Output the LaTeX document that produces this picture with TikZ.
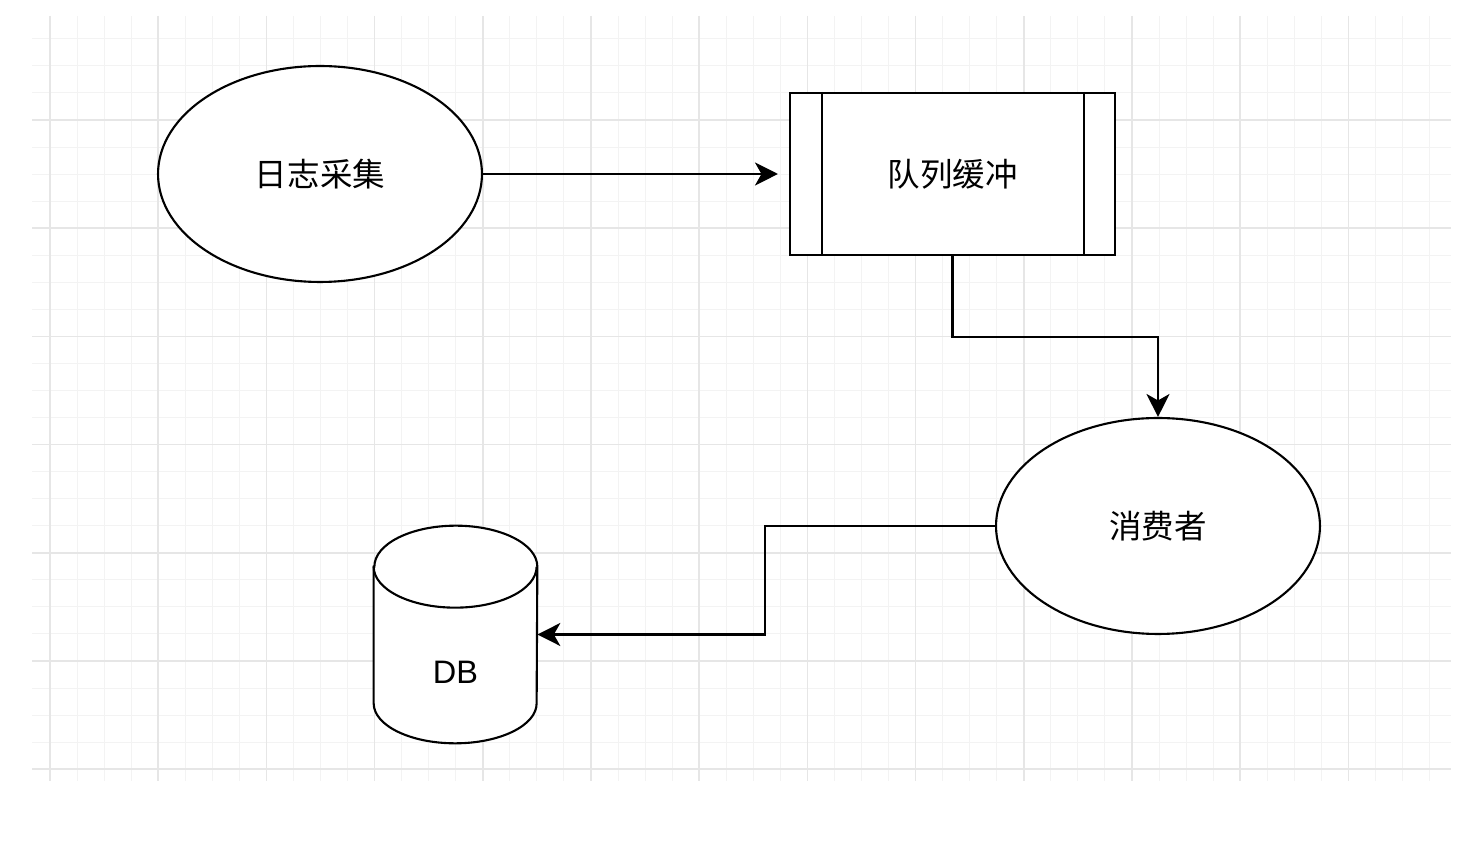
\documentclass[tikz,border=0pt]{standalone}
\usepackage{fontspec}
\setmainfont{Liberation Sans}
\newfontfamily\cjk{Noto Sans CJK SC}
\usepackage{tikz}
\usetikzlibrary{arrows.meta, positioning, shapes.geometric, calc}
\definecolor{gridminor}{RGB}{243,243,243}
\definecolor{gridmajor}{RGB}{230,230,230}
\tikzset{
    % background grid
    gminor/.style={draw=gridminor, line width=0.6pt},
    gmajor/.style={draw=gridmajor, line width=0.9pt},
    % shapes
    ovalbox/.style={ellipse, draw=black, fill=white, line width=1.2pt,
                minimum width=6.48cm, minimum height=4.32cm,
                font=\cjk\fontsize{18.5}{22}\selectfont},
    procbox/.style={rectangle, draw=black, fill=white, line width=1.2pt,
                minimum width=6.5cm, minimum height=3.24cm,
                font=\cjk\fontsize{18.5}{22}\selectfont},
    dbbox/.style={rectangle, minimum width=3.26cm, minimum height=4.34cm,
                inner sep=0pt},
    dbline/.style={draw=black, fill=white, line width=1.2pt},
    dblbl/.style={font=\fontsize{18.5}{22}\selectfont},
    % connectors
    flowarrow/.style={-{Stealth[length=4.6mm, width=4.6mm, inset=1.3mm]},
                line width=1.2pt, black},
}
\begin{document}
\begin{tikzpicture}[x=0.02cm, y=-0.02cm]
\useasboundingbox (0,0) rectangle (1472,857);

% grid
\foreach \i in {0,...,51}
    \draw[gminor] ({50+27.05*\i},16) -- ({50+27.05*\i},781);
\foreach \j in {-3,...,24}
    \draw[gminor] (32,{120+27.05*\j}) -- (1451,{120+27.05*\j});
\foreach \i in {0,...,12}
    \draw[gmajor] ({50+108.2*\i},16) -- ({50+108.2*\i},781);
\foreach \j in {0,...,6}
    \draw[gmajor] (32,{120+108.2*\j}) -- (1451,{120+108.2*\j});

\node[ovalbox] (collect) at (320,174)  {日志采集};
\node[procbox] (queue)   at (952.5,174) {队列缓冲};
\node[ovalbox] (cons)    at (1158,526) {消费者};
\node[dbbox]   (db)      at (455.5,634.5) {};

% process side bars
\draw[line width=1.2pt] ([xshift=0.66cm]queue.north west) -- ([xshift=0.66cm]queue.south west);
\draw[line width=1.2pt] ([xshift=-0.64cm]queue.north east) -- ([xshift=-0.64cm]queue.south east);

% cylinder
\draw[dbline] ([yshift=-0.82cm]db.north west) -- ([yshift=0.8cm]db.south west)
    arc[start angle=180, end angle=360, x radius=1.63cm, y radius=0.8cm]
    -- ([yshift=-0.82cm]db.north east)
    arc[start angle=0, end angle=180, x radius=1.63cm, y radius=0.82cm] -- cycle;
\draw[dbline, fill=none] ([yshift=-0.82cm]db.north west)
    arc[start angle=180, end angle=360, x radius=1.63cm, y radius=0.82cm];
\node[dblbl] (dbtxt) at (455.5,672) {DB};

\draw[flowarrow, shorten >=0.22cm] (collect) -- (queue);
\draw[flowarrow] (queue.south) -- ++(0,81) -| (cons.north);
\draw[flowarrow] (cons.west) -- ++(-230,0) |- (db.east);
\end{tikzpicture}
\end{document}
